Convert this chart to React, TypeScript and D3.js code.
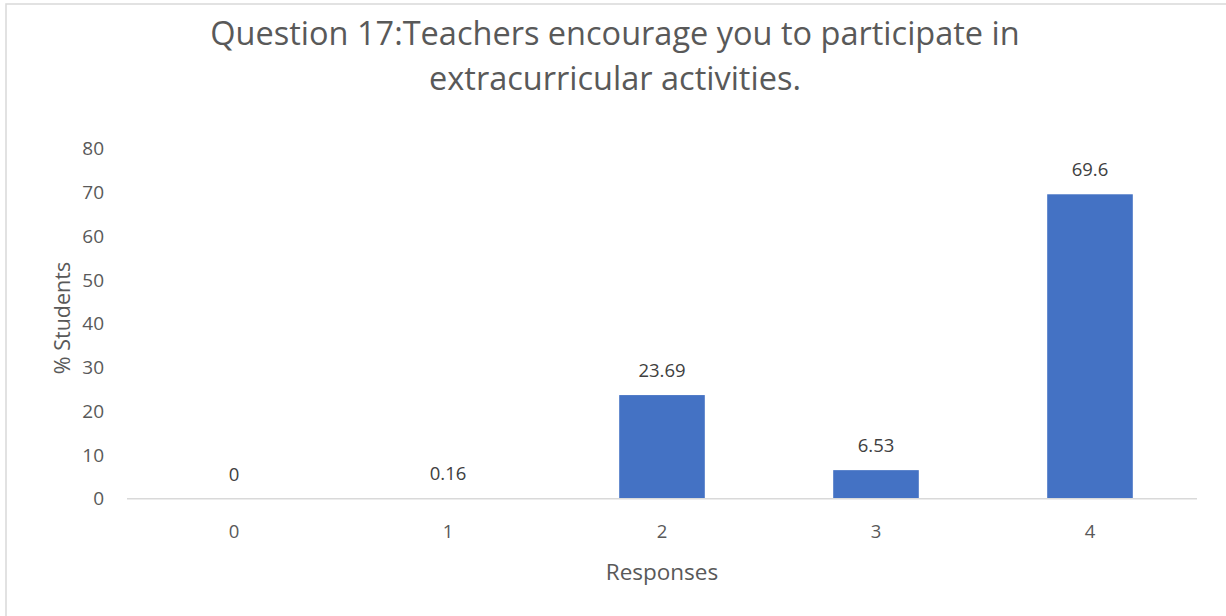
import React from "react";
import * as d3 from "d3";

const categories = ["0", "1", "2", "3", "4"];
const values = [0, 0.16, 23.69, 6.53, 69.6];
const valueLabels = ["0", "0.16", "23.69", "6.53", "69.6"];
const yTicks = [0, 10, 20, 30, 40, 50, 60, 70, 80];
const titleLines = [
  "Question 17:Teachers encourage you to participate in",
  "extracurricular activities.",
];
const xTitle = "Responses";
const yTitle = "% Students";

const W = 1226;
const H = 616;
const FONT = "'Open Sans', 'Noto Sans', sans-serif";

export default function App() {
  const x = d3
    .scaleBand<string>()
    .domain(categories)
    .range([127, 1197])
    .paddingInner(0.6)
    .paddingOuter(0.3);
  const y = d3.scaleLinear().domain([0, 80]).range([498.7, 148.8]);

  return (
    <svg
      width={W}
      height={H}
      style={{ position: "absolute", left: 0, top: 0, display: "block", background: "#fff" }}
      fontFamily={FONT}
    >
      <rect x={6} y={4} width={W + 10} height={H + 10} fill="#fff" stroke="#d9d9d9" strokeWidth={1.5} />
      {titleLines.map((t, i) => (
        <text
          key={i}
          x={615}
          y={45 + i * 45}
          textAnchor="middle"
          fontSize={32.5}
          fill="#595959"
        >
          {t}
        </text>
      ))}
      {yTicks.map((t) => (
        <text key={t} x={104} y={y(t)} dy="0.35em" textAnchor="end" fontSize={19} fill="#595959">
          {t}
        </text>
      ))}
      {categories.map((c, i) => (
        <rect
          key={c}
          x={x(c)}
          y={y(values[i])}
          width={x.bandwidth()}
          height={y(0) - y(values[i])}
          fill="#4472c4"
        />
      ))}
      <line x1={127} x2={1197} y1={y(0)} y2={y(0)} stroke="#d9d9d9" strokeWidth={1.5} />
      {categories.map((c, i) => (
        <text
          key={"l" + c}
          x={(x(c) as number) + x.bandwidth() / 2}
          y={y(values[i]) - 18}
          textAnchor="middle"
          fontSize={18.5}
          fill="#404040"
        >
          {valueLabels[i]}
        </text>
      ))}
      {categories.map((c) => (
        <text
          key={"t" + c}
          x={(x(c) as number) + x.bandwidth() / 2}
          y={537.5}
          textAnchor="middle"
          fontSize={18.5}
          fill="#595959"
        >
          {c}
        </text>
      ))}
      <text x={662} y={580} textAnchor="middle" fontSize={22.5} fill="#595959">
        {xTitle}
      </text>
      <text
        transform={`translate(70, 318) rotate(-90)`}
        textAnchor="middle"
        fontSize={21.5}
        fill="#595959"
      >
        {yTitle}
      </text>
    </svg>
  );
}
